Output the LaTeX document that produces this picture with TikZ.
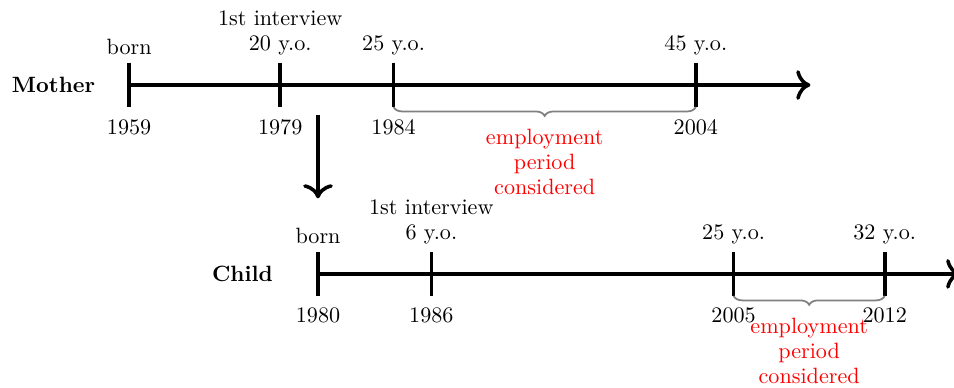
\documentclass[tikz,border=0pt]{standalone}
\definecolor{periodred}{RGB}{255,0,0}
\definecolor{bracegray}{RGB}{128,128,128}
\usepackage{tikz}
\usetikzlibrary{arrows,arrows.meta,positioning,calc,decorations.pathreplacing}

\tikzset{
  timeline/.style={ultra thick,-{To[scale=1.25]}},
  tickmark/.style={ultra thick},
  period/.style={decorate,decoration={brace,mirror,amplitude=4pt},draw=bracegray,thick},
  periodtext/.style={text=periodred,align=center,anchor=north,font=\linespread{0.94}\selectfont},
  yearlabel/.style={below=2pt},
  agelabel/.style={above,align=center,font=\linespread{0.94}\selectfont},
  whois/.style={font=\bfseries}
}

\begin{document}
\begin{tikzpicture}
  \useasboundingbox (-2.05,-4.8) rectangle (13.1,1.35);

  % Mother
  \node[whois] (mother) at (-1.2,0) {Mother};
  \coordinate (mstart) at (0,0);
  \coordinate (mend) at (10.82,0);
  \draw[timeline] (mstart) -- (mend);
  \draw[tickmark] (0,0.35) coordinate (mbornt) -- (0,-0.35) coordinate (mbornb);
  \draw[tickmark] (2.4,0.35) coordinate (mintt) -- (2.4,-0.35) coordinate (mintb);
  \draw[tickmark] (4.2,0.35) coordinate (mfromt) -- (4.2,-0.35) coordinate (mfromb);
  \draw[tickmark] (9,0.35) coordinate (mtot) -- (9,-0.35) coordinate (mtob);
  \node[agelabel] (mbornage) at (mbornt) {born};
  \node[agelabel] (mintage) at (mintt) {1st interview\\20 y.o.};
  \node[agelabel] (mfromage) at (mfromt) {25 y.o.};
  \node[agelabel] (mtoage) at (mtot) {45 y.o.};
  \node[yearlabel] (mbornyear) at (mbornb) {1959};
  \node[yearlabel] (mintyear) at (mintb) {1979};
  \node[yearlabel] (mfromyear) at (mfromb) {1984};
  \node[yearlabel] (mtoyear) at (mtob) {2004};
  \draw[period] (mfromb) -- (mtob);
  \node[periodtext] (mperiod) at ($(mfromb)!0.5!(mtob)+(0,-0.23)$) {employment\\period\\considered};

  % link
  \coordinate (linkfrom) at (3,-0.48);
  \coordinate (linkto) at (3,-1.8);
  \draw[timeline] (linkfrom) -- (linkto);

  % Child
  \node[whois] (child) at (1.8,-3) {Child};
  \coordinate (cstart) at (3,-3);
  \coordinate (cend) at (13.2,-3);
  \draw[timeline] (cstart) -- (cend);
  \draw[tickmark] (3,-2.65) coordinate (cbornt) -- (3,-3.35) coordinate (cbornb);
  \draw[tickmark] (4.8,-2.65) coordinate (cintt) -- (4.8,-3.35) coordinate (cintb);
  \draw[tickmark] (9.6,-2.65) coordinate (cfromt) -- (9.6,-3.35) coordinate (cfromb);
  \draw[tickmark] (12,-2.65) coordinate (ctot) -- (12,-3.35) coordinate (ctob);
  \node[agelabel] (cbornage) at (cbornt) {born};
  \node[agelabel] (cintage) at (cintt) {1st interview\\6 y.o.};
  \node[agelabel] (cfromage) at (cfromt) {25 y.o.};
  \node[agelabel] (ctoage) at (ctot) {32 y.o.};
  \node[yearlabel] (cbornyear) at (cbornb) {1980};
  \node[yearlabel] (cintyear) at (cintb) {1986};
  \node[yearlabel] (cfromyear) at (cfromb) {2005};
  \node[yearlabel] (ctoyear) at (ctob) {2012};
  \draw[period] (cfromb) -- (ctob);
  \node[periodtext] (cperiod) at ($(cfromb)!0.5!(ctob)+(0,-0.23)$) {employment\\period\\considered};
\end{tikzpicture}
\end{document}
